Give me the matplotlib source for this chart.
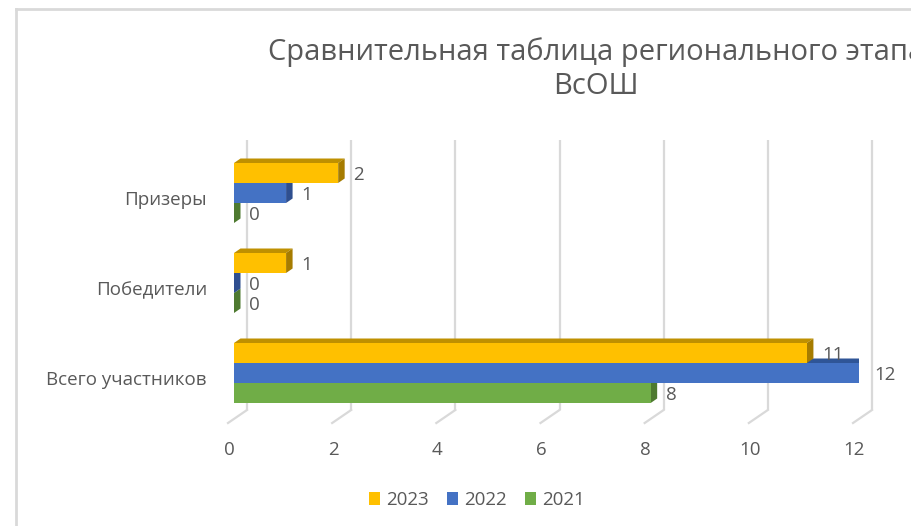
import matplotlib
matplotlib.use("Agg")
import matplotlib.pyplot as plt
from matplotlib.patches import Polygon, Rectangle
from matplotlib.lines import Line2D

plt.rcParams['font.family'] = ['Open Sans', 'DejaVu Sans']

# ---- data ----
categories = ["Всего участников", "Победители", "Призеры"]
series_names = ["2023", "2022", "2021"]
values_2023 = [11, 1, 2]
values_2022 = [12, 0, 1]
values_2021 = [8, 0, 0]
xticks = [0, 2, 4, 6, 8, 10, 12]
title = "Сравнительная таблица регионального этапа\nВсОШ"

series_values = [values_2023, values_2022, values_2021]
front_colors = ["#FFC000", "#4472C4", "#70AD47"]
top_colors = ["#BF9000", "#2F5597", "#548235"]
side_colors = ["#A67C00", "#2F4F8F", "#4E7A30"]
offsets = [2/9, 0.0, -2/9]

W, H = 912, 526
FS = 13.5
fig = plt.figure(figsize=(W/100, H/100), dpi=100)
fig.patch.set_facecolor("white")

# frame border (cropped chart area)
fig.add_artist(Line2D([16/W, 16/W], [0, 1 - 9/H], color="#D9D9D9", lw=2))
fig.add_artist(Line2D([16/W, 1], [1 - 9/H, 1 - 9/H], color="#D9D9D9", lw=2))

ax = fig.add_axes([234/W, (526-423)/H, 625/W, 283/H])
ax.set_xlim(0, 12)
ax.set_ylim(-50/90, 233/90)
ax.axis("off")

TXT = "#595959"
GRID = "#D9D9D9"
gdx = 13/52.08      # back plane offset x
fdx = -6/52.08      # floor front offset x
yb_back = -37/90
yb_front = -50/90
ytop = 233/90

# gridlines (back wall + floor diagonal)
for t in xticks:
    ax.plot([t + gdx, t + gdx], [yb_back, ytop], color=GRID, lw=1.6,
            solid_capstyle="butt", clip_on=False, zorder=1)
    ax.plot([t + gdx, t + fdx], [yb_back, yb_front], color=GRID, lw=1.6,
            clip_on=False, zorder=1)
    ax.text(t + fdx + 0.02, -77/90, str(t), ha="center", va="center",
            fontsize=FS, color=TXT)

bh = 2/9
ddx = 6.5/52.08
ddy = 4.5/90

# draw bars: green first, then blue, then yellow
for s in [2, 1, 0]:
    vals = series_values[s]
    for i, v in enumerate(vals):
        yc = i + offsets[s]
        y0, y1 = yc - bh/2, yc + bh/2
        # top face
        ax.add_patch(Polygon([(0, y1), (v, y1), (v + ddx, y1 + ddy), (ddx, y1 + ddy)],
                             closed=True, facecolor=top_colors[s], edgecolor="none",
                             zorder=2 + (2 - s)))
        # side face
        ax.add_patch(Polygon([(v, y0), (v, y1), (v + ddx, y1 + ddy), (v + ddx, y0 + ddy)],
                             closed=True, facecolor=side_colors[s], edgecolor="none",
                             zorder=2 + (2 - s)))
    ax.barh([i + offsets[s] for i in range(len(vals))], vals, height=bh,
            color=front_colors[s], zorder=2.5 + (2 - s), label=series_names[s])
    for i, v in enumerate(vals):
        ax.text(v + 0.29, i + offsets[s] - 2/90, str(v), ha="left", va="center",
                fontsize=FS, color=TXT, zorder=10)

# category labels
for i, c in enumerate(categories):
    ax.text(-27/52.08, i - 7/90, c, ha="right", va="center", fontsize=FS, color=TXT)

# title
fig.text(596/W, 1 - 69/H, title, ha="center", va="center", fontsize=21,
         color=TXT, linespacing=1.2)

# legend
handles = [Rectangle((0, 0), 1, 1, facecolor=front_colors[k], edgecolor="none")
           for k in range(3)]
fig.legend(handles, series_names, loc="center", bbox_to_anchor=(477/W, 1 - 500/H),
           ncol=3, frameon=False, fontsize=FS, labelcolor=TXT,
           handlelength=0.59, handleheight=0.64, handletextpad=0.32,
           columnspacing=0.96, borderpad=0.2)

fig.savefig("out.png", dpi=100)
